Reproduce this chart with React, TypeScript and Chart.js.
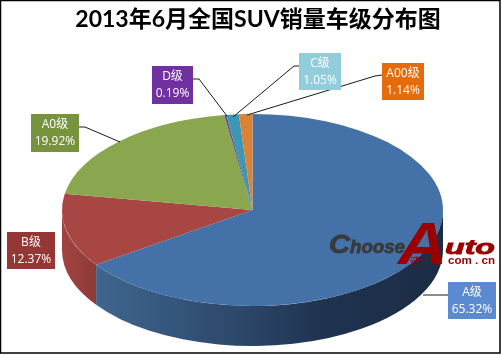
import React, { useEffect, useRef } from "react";
import { Chart, registerables } from "chart.js";

Chart.register(...registerables);

const categories = ["A级", "B级", "A0级", "D级", "C级", "A00级"];
const shares = [65.32, 12.37, 19.92, 0.19, 1.05, 1.14];
const sliceColors = ["#4371A8", "#A84644", "#8AA64E", "#6B4E94", "#3E97B2", "#DC8236"];
const boxColors = ["#5A8AD0", "#953735", "#77933C", "#7030A0", "#92CDDC", "#E46C0A"];

const titleText = "2013年6月全国SUV销量车级分布图";
const SQUASH = 96 / 190.5;
const DEPTH = 40;
const LABEL_FONT = '12px "Open Sans", "Noto Sans CJK SC", sans-serif';

// callout placement: box [x, y, w, h], then leader polyline
const callouts: { box: number[]; line: number[][] }[] = [
  { box: [448, 282, 48, 37], line: [[448, 295], [423, 295]] },
  { box: [7, 232, 48, 37], line: [] },
  { box: [31, 114, 48, 38], line: [[79, 127], [85, 127], [120, 142]] },
  { box: [152, 66, 41, 38], line: [[193, 79], [199, 79], [227, 116]] },
  { box: [299, 53, 42, 37], line: [[299, 66], [294, 66], [233, 117]] },
  { box: [382, 63, 42, 37], line: [[382, 75], [375, 76], [247, 115]] },
];

const wallGradients: Record<number, [number, string][]> = {
  0: [[96, "#3F668F"], [250, "#2B4567"], [320, "#1F3350"], [443, "#1B2C44"]],
  1: [[62, "#A34341"], [96, "#8C3A38"]],
};

const pie3d = {
  id: "pie3d",
  beforeDraw(chart: any) {
    const { ctx, width, height } = chart;
    ctx.save();
    ctx.fillStyle = "#FFFFFF";
    ctx.fillRect(0, 0, width, height);
    ctx.strokeStyle = "#000000";
    ctx.lineWidth = 1.5;
    ctx.strokeRect(0.5, 0.5, 499.5, 352.5);
    // title
    ctx.fillStyle = "#000000";
    ctx.font = 'bold 23px Lato, "Noto Sans CJK SC", sans-serif';
    ctx.textAlign = "center";
    ctx.textBaseline = "middle";
    ctx.fillText(titleText, 258, 20);
    ctx.restore();
  },
  beforeDatasetsDraw(chart: any) {
    const { ctx } = chart;
    const arcs = chart.getDatasetMeta(0).data;
    const { x: cx, y: cy, outerRadius: rx } = arcs[0];
    const ry = rx * SQUASH;
    ctx.save();
    arcs.forEach((arc: any, i: number) => {
      const a1 = Math.min(Math.max(arc.startAngle, 0), Math.PI);
      const a2 = Math.min(Math.max(arc.endAngle, 0), Math.PI);
      if (a2 <= a1) return;
      const stops = wallGradients[i];
      if (!stops) return;
      const x0 = stops[0][0];
      const x1 = stops[stops.length - 1][0];
      const g = ctx.createLinearGradient(x0, 0, x1, 0);
      stops.forEach(([x, c]) => g.addColorStop((x - x0) / (x1 - x0), c));
      ctx.fillStyle = g;
      ctx.beginPath();
      ctx.ellipse(cx, cy, rx, ry, 0, a1, a2);
      ctx.ellipse(cx, cy + DEPTH, rx, ry, 0, a2, a1, true);
      ctx.closePath();
      ctx.fill();
    });
    ctx.restore();
    ctx.save();
    ctx.translate(cx, cy);
    ctx.scale(1, SQUASH);
    ctx.translate(-cx, -cy);
  },
  afterDatasetsDraw(chart: any) {
    chart.ctx.restore();
  },
  afterDraw(chart: any) {
    const { ctx } = chart;
    ctx.save();
    // leaders
    ctx.strokeStyle = "#1A1A1A";
    ctx.lineWidth = 1;
    callouts.forEach(({ line }) => {
      if (!line.length) return;
      ctx.beginPath();
      line.forEach(([x, y], i) => (i ? ctx.lineTo(x, y) : ctx.moveTo(x, y)));
      ctx.stroke();
    });
    // boxes
    ctx.textAlign = "center";
    ctx.textBaseline = "middle";
    ctx.font = LABEL_FONT;
    callouts.forEach(({ box: [x, y, w, h] }, i) => {
      ctx.fillStyle = boxColors[i];
      ctx.fillRect(x, y, w, h);
      ctx.fillStyle = "#FFFFFF";
      ctx.fillText(categories[i], x + w / 2, y + 10.5);
      ctx.fillText(shares[i].toFixed(2) + "%", x + w / 2, y + 28);
    });
    // watermark
    const fit = (t: string, x: number, base: number, w: number, font: string, color: string, bold = 0.8) => {
      ctx.save();
      ctx.font = font;
      ctx.fillStyle = color;
      ctx.strokeStyle = color;
      ctx.lineWidth = bold;
      ctx.textAlign = "left";
      ctx.textBaseline = "alphabetic";
      const m = ctx.measureText(t).width;
      ctx.translate(x, base);
      ctx.scale(w / m, 1);
      ctx.fillText(t, 0, 0);
      if (bold) ctx.strokeText(t, 0, 0);
      ctx.restore();
    };
    const lat = '"Liberation Sans", sans-serif';
    fit("C", 329, 253, 21, `italic bold 25px ${lat}`, "#3A3A3A");
    fit("hoose", 350, 253, 55, `italic bold 18px ${lat}`, "#3A3A3A");
    fit("A", 398, 264, 49, `italic bold 60px ${lat}`, "#9B0000", 0);
    fit("uto", 445, 254, 50, `italic bold 20px ${lat}`, "#9B0000");
    fit("com . cn", 448, 264, 47, `bold 10px ${lat}`, "#9B0000", 0);
    fit("选车网", 410, 265, 30, '10px "Noto Sans CJK SC", sans-serif', "#9B0000", 0);
    ctx.restore();
  },
};

export default function App() {
  const ref = useRef<HTMLCanvasElement>(null);
  useEffect(() => {
    const chart = new Chart(ref.current!, {
      type: "pie",
      data: {
        labels: categories,
        datasets: [
          {
            data: shares,
            backgroundColor: sliceColors,
            borderWidth: 0,
            clip: false,
            radius: 190.5,
          } as any,
        ],
      },
      options: {
        responsive: false,
        animation: false,
        layout: { padding: { left: 3, right: 0, top: 65, bottom: 0 } },
        plugins: {
          legend: { display: false },
          tooltip: { enabled: false },
        },
      },
      plugins: [pie3d],
    });
    return () => chart.destroy();
  }, []);
  return (
    <div style={{ position: "absolute", left: 0, top: 0, width: 502, height: 355 }}>
      <canvas ref={ref} width={502} height={355} style={{ display: "block" }} />
    </div>
  );
}
